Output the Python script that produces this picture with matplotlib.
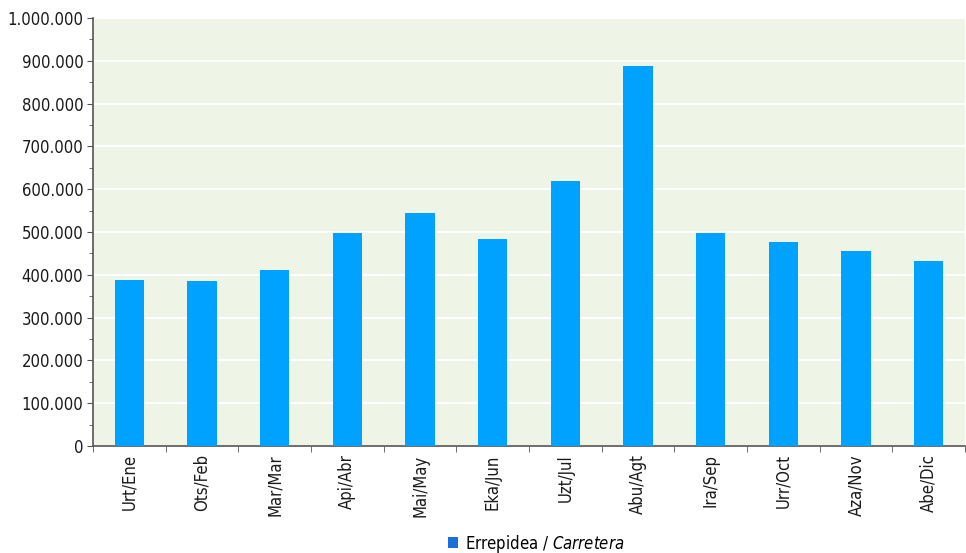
import matplotlib
matplotlib.use('Agg')
import matplotlib.pyplot as plt
import numpy as np
from matplotlib.ticker import FuncFormatter, MultipleLocator, FixedLocator
from matplotlib.patches import Patch

months = ['Urt/Ene', 'Ots/Feb', 'Mar/Mar', 'Api/Abr', 'Mai/May', 'Eka/Jun',
          'Uzt/Jul', 'Abu/Agt', 'Ira/Sep', 'Urr/Oct', 'Aza/Nov', 'Abe/Dic']
carretera = [388000, 386000, 411000, 498000, 544000, 484000,
             619000, 888000, 498000, 477000, 456000, 432000]

plt.rcParams['font.family'] = ['DejaVu Sans']
plt.rcParams['font.stretch'] = 'condensed'
plt.rcParams['mathtext.fontset'] = 'custom'
plt.rcParams['mathtext.it'] = 'DejaVu Sans:italic:stretch=condensed'
plt.rcParams['mathtext.rm'] = 'DejaVu Sans:stretch=condensed'

fig = plt.figure(figsize=(9.66, 5.53), dpi=100)
ax = fig.add_axes([0.0963, 0.1935, 0.9027, 0.774])
ax.set_facecolor('#eef4e6')

x = np.arange(len(months))
ax.bar(x, carretera, width=0.4, color='#00a2ff', zorder=3)

ax.set_xlim(-0.5, len(months) - 0.5)
ax.set_ylim(0, 1000000)
ax.yaxis.set_major_locator(MultipleLocator(100000))
ax.yaxis.set_minor_locator(MultipleLocator(50000))
ax.yaxis.set_major_formatter(FuncFormatter(lambda v, p: f'{int(v):,}'.replace(',', '.')))
ax.grid(axis='y', color='white', linewidth=1.5, zorder=1)

ax.set_xticks(x)
ax.set_xticklabels(months, rotation=90)
ax.xaxis.set_minor_locator(FixedLocator(np.arange(-0.5, len(months), 1)))
ax.tick_params(axis='x', which='major', length=0, pad=6, labelsize=12, labelcolor='#1a1a1a')
ax.tick_params(axis='x', which='minor', length=4, color='#555555')
ax.tick_params(axis='y', which='major', length=4, color='#555555', labelsize=12, labelcolor='#1a1a1a', pad=3)
ax.tick_params(axis='y', which='minor', length=3, color='#555555')

for s in ['top', 'right']:
    ax.spines[s].set_visible(False)
for s in ['left', 'bottom']:
    ax.spines[s].set_color('#555555')
    ax.spines[s].set_linewidth(1.2)

handle = Patch(facecolor='#1a70d8', edgecolor='none')
fig.legend([handle], [r'Errepidea / $\it{Carretera}$'], loc='lower center',
           bbox_to_anchor=(0.555, -0.03), frameon=False, fontsize=12,
           handlelength=0.6, handleheight=0.6, handletextpad=0.4)

fig.savefig('out.png', dpi=100)
